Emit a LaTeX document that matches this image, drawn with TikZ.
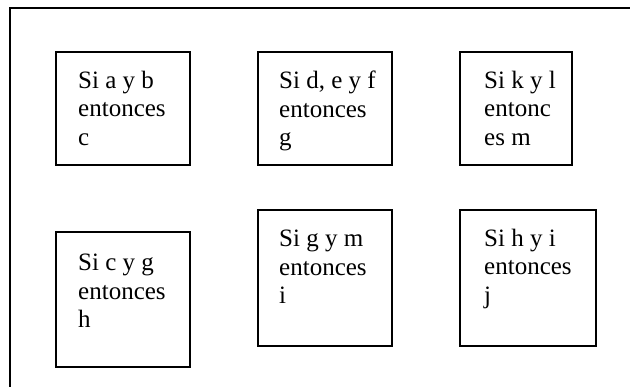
\documentclass[tikz,border=0pt]{standalone}
\usepackage{fontspec}
\setmainfont{Liberation Serif}
\begin{document}
\begin{tikzpicture}[x=1pt, y=1pt,
  regla/.style={draw, line width=2, inner sep=0, outer sep=0, anchor=north west},
  texto/.style={inner sep=0, anchor=north west, align=left,
    font=\fontsize{25}{28.3}\selectfont}]
  \useasboundingbox (0,0) rectangle (630,-387);
  % marco exterior
  \draw[line width=2] ({10}, -387) -- ({10}, -8) -- ({630}, -8);
  % fila de arriba
  \node[regla, minimum width=134, minimum height=113] (r1) at ({56}, -52) {};
  \node[regla, minimum width=134, minimum height=113] (r2) at ({258}, -52) {};
  \node[regla, minimum width=112, minimum height=113] (r3) at ({460}, -52) {};
  % fila de abajo
  \node[regla, minimum width=134, minimum height=135] (r4) at ({56}, -232) {};
  \node[regla, minimum width=134, minimum height=136] (r5) at ({258}, -210) {};
  \node[regla, minimum width=136, minimum height=136] (r6) at ({460}, -210) {};
  \node[texto] (t1) at ([xshift=22, yshift=-19]r1.north west) {Si a y b\\entonces\\c};
  \node[texto] (t2) at ([xshift=21, yshift=-19]r2.north west) {Si d, e y f\\entonces\\g};
  \node[texto] (t3) at ([xshift=24, yshift=-19]r3.north west) {Si k y l\\entonc\\es m};
  \node[texto] (t4) at ([xshift=22, yshift=-22]r4.north west) {Si c y g\\entonces\\h};
  \node[texto] (t5) at ([xshift=21, yshift=-20]r5.north west) {Si g y m\\entonces\\i};
  \node[texto] (t6) at ([xshift=24, yshift=-19]r6.north west) {Si h y i\\entonces\\j};
\end{tikzpicture}
\end{document}
